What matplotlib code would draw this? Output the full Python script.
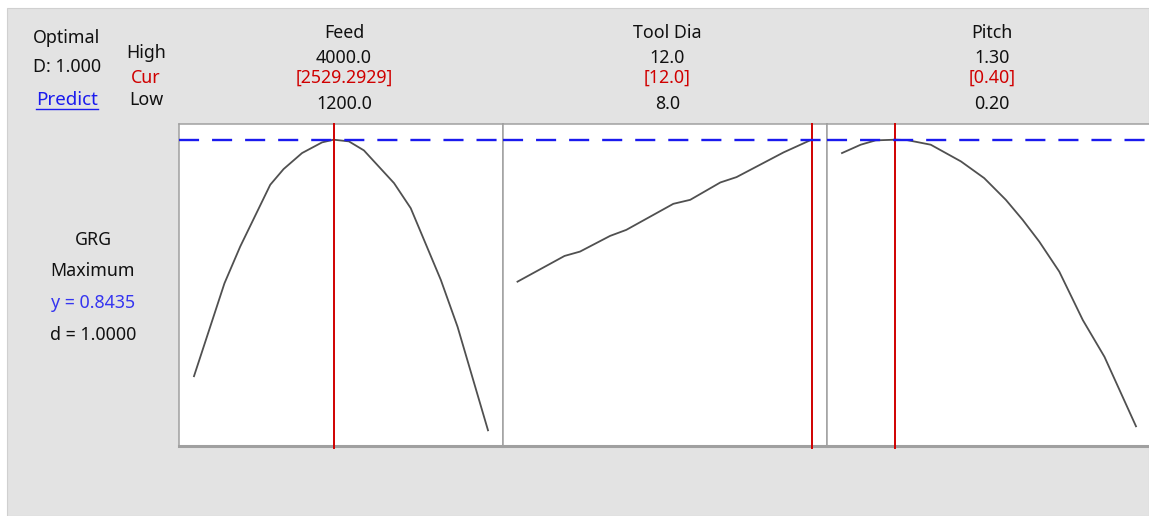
import matplotlib
matplotlib.use("Agg")
import matplotlib.pyplot as plt
from matplotlib.patches import Rectangle
from matplotlib.lines import Line2D

# Kolomkoppen en instellingen
factors = ["Feed", "Tool Dia", "Pitch"]
high_labels = ["4000.0", "12.0", "1.30"]
cur_labels = ["[2529.2929]", "[12.0]", "[0.40]"]
low_labels = ["1200.0", "8.0", "0.20"]
x_low = [1200.0, 8.0, 0.20]
x_high = [4000.0, 12.0, 1.30]
x_cur = [2529.2929, 12.0, 0.40]
y_opt = 0.8435

# Curves
feed_x = [1200, 1490, 1640, 1926, 2053, 2229, 2420, 2529.29, 2675, 2818, 3105, 3264, 3551, 3710, 4000]
feed_y = [0.5603, 0.6715, 0.7155, 0.7895, 0.8083, 0.8275, 0.8403, 0.8435, 0.8415, 0.8307,
          0.7915, 0.7615, 0.6755, 0.6195, 0.4955]
tool_x = [8.0, 8.64, 8.85, 9.26, 9.48, 10.12, 10.35, 10.76, 10.98, 11.62, 12.0]
tool_y = [0.6735, 0.7043, 0.7095, 0.7283, 0.7355, 0.7667, 0.7715, 0.7923, 0.7987, 0.8283, 0.8435]
pitch_x = [0.20, 0.27, 0.326, 0.40, 0.444, 0.532, 0.645, 0.732, 0.813, 0.876, 0.938,
           1.013, 1.101, 1.182, 1.30]
pitch_y = [0.8275, 0.8375, 0.8427, 0.8435, 0.8430, 0.8375, 0.8175, 0.7975, 0.7715, 0.7475,
           0.7215, 0.6855, 0.6275, 0.5835, 0.5003]
curves = [(feed_x, feed_y), (tool_x, tool_y), (pitch_x, pitch_y)]

W, H = 1149, 516
BG = "#e3e3e3"
RED = "#d00000"
BLUE = "#1a1aee"
FONT = ["Noto Sans", "DejaVu Sans"]


def fx(x):
    return x / W


def fy(y):
    return 1 - y / H


fig = plt.figure(figsize=(W / 100, H / 100), dpi=100)
fig.patch.set_facecolor("white")
fig.add_artist(Rectangle((fx(7), 0), 1 - fx(7), fy(8), transform=fig.transFigure,
                         facecolor=BG, edgecolor="#d0d0d0", lw=0.8, zorder=0))


def txt(x, y, s, color="#111111", size=12.8, ha="center"):
    fig.text(fx(x), fy(y), s, ha=ha, va="center", color=color, fontsize=size, family=FONT)


# Linker blok
txt(67, 38, "Optimal")
txt(67, 67, "D: 1.000")
txt(67, 100, "Predict", color=BLUE, size=13.5)
fig.add_artist(Line2D([fx(36), fx(98)], [fy(109), fy(109)], color=BLUE, lw=1.0))
txt(146, 53, "High")
txt(146, 78, "Cur", color=RED)
txt(146, 100, "Low")

txt(93, 240, "GRG")
txt(93, 271, "Maximum")
txt(93, 303, "y = 0.8435", color="#3535f0")
txt(93, 335, "d = 1.0000")

# Panelen
lefts = [179, 502.5, 827]
pw = 324
top, bottom = 124, 446
ally = feed_y + tool_y + pitch_y
ymin, ymax = min(ally), max(ally)
ypad = (ymax - ymin) * 0.054

for i, name in enumerate(factors):
    ax = fig.add_axes([fx(lefts[i]), fy(bottom), pw / W, (bottom - top) / H])
    ax.set_facecolor("white")
    xr = x_high[i] - x_low[i]
    ax.set_xlim(x_low[i] - 0.051 * xr, x_high[i] + 0.051 * xr)
    ax.set_ylim(ymin - ypad, ymax + ypad)
    ax.set_xticks([])
    ax.set_yticks([])
    for side, sp in ax.spines.items():
        sp.set_color("#a0a0a0")
        sp.set_linewidth(1.1)
    ax.spines["bottom"].set_linewidth(2.2)

    cx, cy = curves[i]
    ax.plot(cx, cy, color="#505050", lw=1.3, zorder=3)
    ax.axvline(x_cur[i], color=RED, lw=1.4, zorder=4, ymin=-0.006, clip_on=False)
    ax.axhline(y_opt, color=BLUE, lw=1.7, dashes=(8.5, 5.5), zorder=5)

    hx = lefts[i] + pw / 2 + 3
    txt(hx, 33, name)
    txt(hx, 58, high_labels[i])
    txt(hx, 78, cur_labels[i], color=RED)
    txt(hx, 104, low_labels[i])

fig.savefig("out.png", dpi=100, facecolor=fig.get_facecolor())
